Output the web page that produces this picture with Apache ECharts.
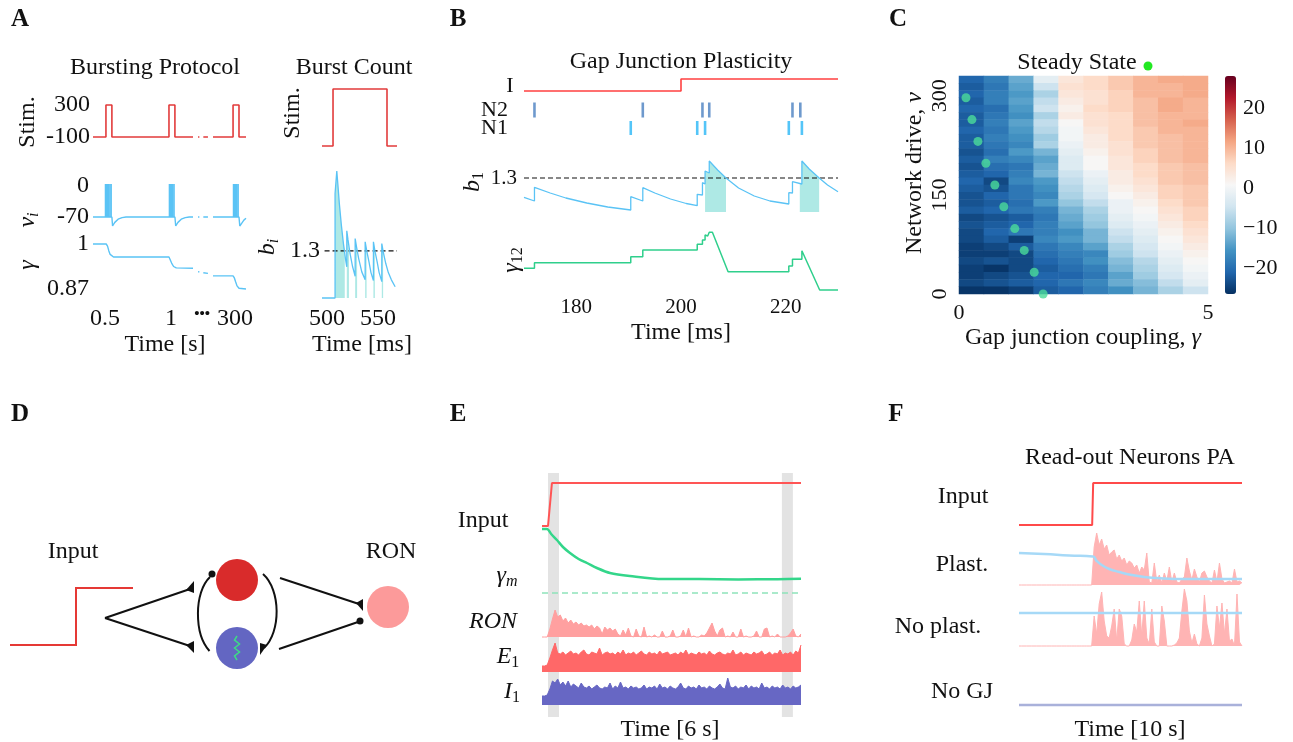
<!DOCTYPE html>
<html>
<head>
<meta charset="UTF-8">
<title>Gap junction plasticity</title>
<script src="https://cdn.jsdelivr.net/npm/echarts@6.0.0/dist/echarts.min.js"></script>
<style type="text/css">
html, body {
	width: 100%;
	height: 100%;
	padding: 0px;
	margin: 0px;
	background: #ffffff;
}
</style>
</head>
<body>
	<div id="chart" style="width: 1293px; height: 742px;"></div>

	<script type="text/javascript">
        var FONT = 'Liberation Serif';
        var INK = '#111111';

        // ---- A: bursting protocol (broken time axis, s) ----
        var stimA = [[0.41,-100],[0.508,-100],[0.508,300],[0.553,300],[0.553,-100],[0.985,-100],[0.985,300],[1.03,300],[1.03,-100],[1.167,-100],[1.167,'-'],[1.205,-100],[1.215,-100],[1.215,'-'],[1.245,-100],[1.28,-100],[1.28,'-'],[1.318,-100],[1.47,-100],[1.47,300],[1.515,300],[1.515,-100],[1.568,-100]];
        var vRestA = [[0.41,-70],[0.553,-70],[0.558,-90],[0.575,-82],[0.6,-75],[0.63,-71.5],[0.66,-70],[1.03,-70],[1.036,-90],[1.053,-82],[1.078,-75],[1.108,-71.5],[1.138,-70],[1.167,-70],[1.167,'-'],[1.205,-70],[1.215,-70],[1.215,'-'],[1.245,-70],[1.28,-70],[1.28,'-'],[1.318,-70],[1.515,-70],[1.521,-90],[1.535,-84],[1.552,-77],[1.568,-73]];
        var spikeTimesA = [0.503,0.509,0.516,0.523,0.531,0.54,0.549,0.987,0.993,1.0,1.008,1.016,1.025,1.472,1.478,1.485,1.493,1.501,1.51];
        var gammaA = [[0.41,1],[0.51,1],[0.52,0.994],[0.53,0.98],[0.54,0.97],[0.55,0.965],[0.565,0.9625],[0.985,0.9625],[0.995,0.957],[1.005,0.945],[1.02,0.935],[1.04,0.931],[1.167,0.93],[1.167,'-'],[1.205,0.92],[1.215,0.919],[1.215,'-'],[1.245,0.917],[1.28,0.915],[1.28,'-'],[1.318,0.908],[1.47,0.908],[1.48,0.902],[1.49,0.89],[1.5,0.879],[1.515,0.872],[1.53,0.87],[1.568,0.87]];
        var timeTicksA = [0.5, 1, 1.235, 1.485];
        var timeTextA = ['0.5', '1', '{d|\u2022\u2022\u2022}', '300'];

        // ---- A: burst count (ms) ----
        var stimBC = [[495,0],[505.8,0],[505.8,1],[558.7,1],[558.7,0],[568.5,0]];
        var bTraceA = [[495,0],[507.8,0],[507.8,2.88],[509.5,2.88],[509.5,3.5],[510.5,3.15],[512,2.6],[514,2.0],[516,1.5],[518,1.08],[519.3,0.86],[519.3,1.85],[520.5,1.6],[522.5,1.22],[525,0.86],[527.5,0.6],[527.5,1.64],[529,1.38],[531,1.08],[534,0.72],[537.3,0.5],[537.3,1.55],[539,1.28],[541,1.0],[543,0.7],[545.4,0.48],[545.4,1.55],[547,1.28],[549,1.0],[551,0.7],[553.6,0.45],[553.6,1.5],[555,1.27],[557.5,0.95],[560,0.7],[563,0.5],[566.7,0.31]];
        var bShadeA = [[507.8,2.88],[509.5,2.88],[509.5,3.5],[510.5,3.15],[512,2.6],[514,2.0],[516,1.5],[517.3,1.3],[517.3,'-'],[519.3,1.85],[520.5,1.6],[521.4,1.3],[521.4,'-'],[527.5,1.64],[529,1.38],[529.4,1.3],[529.4,'-'],[537.3,1.55],[538.7,1.3],[538.7,'-'],[545.4,1.55],[546.8,1.3],[546.8,'-'],[553.6,1.5],[554.9,1.3]];
        var thresholdA = [[497.5,1.3],[568.5,1.3]];

        // ---- B: gap junction plasticity (ms) ----
        var inputB = [[170,0],[200,0],[200,1],[230,1]];
        var spikesN2 = [172, 192.7, 204.1, 205.4, 221.3, 222.8];
        var spikesN1 = [190.4, 203.1, 204.6, 220.6, 223.1];
        var b1Trace = [[170,1.107],[172,1.07],[172,1.207],[175,1.15],[178,1.10],[182,1.05],[186,1.01],[190.4,0.98],[190.4,1.113],[192.7,1.07],[192.7,1.203],[195,1.15],[198,1.09],[201,1.045],[203.1,1.023],[203.1,1.137],[204.1,1.13],[204.1,1.253],[204.6,1.24],[204.6,1.37],[205.4,1.35],[205.4,1.47],[207,1.38],[208.6,1.3],[211,1.2],[214,1.12],[217,1.07],[220.6,1.04],[220.6,1.153],[221.3,1.15],[221.3,1.263],[223.1,1.24],[223.1,1.47],[224.5,1.39],[226.4,1.3],[228,1.23],[230,1.163]];
        var b1Shade = [[204.6,1.24],[204.6,1.37],[205.4,1.35],[205.4,1.47],[207,1.38],[208.6,1.3],[208.6,'-'],[222.7,1.245],[223.1,1.24],[223.1,1.47],[224.5,1.39],[226.4,1.3]];
        var thresholdB = [[170,1.3],[230,1.3]];
        var gamma12 = [[170,2.47],[172,2.47],[172,3.03],[190.4,3.03],[190.4,3.63],[192.7,3.63],[192.7,4.3],[203.1,4.3],[203.1,4.87],[204.1,4.87],[204.1,5.3],[204.6,5.3],[204.6,5.8],[205.1,5.7],[205.4,6.07],[205.7,5.95],[206,6.07],[209,2.13],[220.6,2.13],[220.6,2.7],[221.3,2.7],[221.3,3.37],[223.1,3.37],[223.1,4.23],[226.5,0.3],[230,0.3]];
        var ticksB = [180, 200, 220];

        // ---- C: steady state heatmap (rows from nu top to bottom, columns gamma 0..5) ----
        var heatRows = [
            [-21,-18,-13,-2,4,6,8,10,11,11],
            [-22,-19,-14,-5,5,6,8,10,10,11],
            [-21,-18,-15,-8,4,5,7,10,10,11],
            [-22,-18,-14,-6,3,5,7,9,11,10],
            [-21,-20,-15,-5,2,6,7,9,11,10],
            [-22,-19,-16,-8,3,5,6,9,10,10],
            [-22,-18,-14,-6,1,5,6,9,10,11],
            [-21,-19,-15,-7,0,4,6,8,10,10],
            [-22,-18,-16,-9,0,3,6,8,9,10],
            [-22,-19,-17,-8,-1,3,5,8,9,10],
            [-23,-20,-15,-12,-2,2,5,7,9,10],
            [-22,-18,-17,-14,-3,1,4,7,9,10],
            [-23,-20,-19,-13,-3,1,4,6,8,9],
            [-22,-21,-18,-12,-5,-1,3,6,8,9],
            [-21,-24,-17,-15,-6,-2,3,5,8,9],
            [-22,-23,-19,-16,-7,-3,2,4,7,8],
            [-23,-21,-19,-17,-8,-4,1,3,7,8],
            [-23,-22,-20,-15,-10,-6,-1,2,6,8],
            [-22,-21,-19,-18,-12,-8,-1,1,5,7],
            [-24,-23,-22,-19,-13,-9,-2,0,4,7],
            [-23,-22,-21,-18,-14,-10,-3,-1,3,6],
            [-24,-21,-19,-18,-16,-12,-5,-2,2,5],
            [-24,-22,-25,-17,-15,-12,-6,-3,1,4],
            [-25,-24,-22,-19,-17,-14,-8,-4,0,3],
            [-25,-25,-24,-20,-18,-17,-9,-5,-1,2],
            [-24,-23,-24,-21,-19,-16,-11,-7,-2,1],
            [-25,-26,-24,-22,-20,-18,-12,-8,-3,0],
            [-25,-24,-23,-21,-21,-19,-14,-9,-4,-1],
            [-24,-23,-22,-21,-19,-17,-13,-11,-6,-2],
            [-26,-26,-25,-22,-21,-18,-16,-12,-8,-5]
        ];
        var steadyDots = [[0.14,297],[0.26,264],[0.38,231],[0.54,198],[0.72,165],[0.90,132],[1.12,99],[1.31,66],[1.51,33],[1.69,0]];
        var cbarTicks = [-20, -10, 0, 10, 20];
        var rdbu = ['#053061','#2166ac','#4393c3','#92c5de','#d1e5f0','#f7f7f7','#fddbc7','#f4a582','#d6604d','#b2182b','#67001f'];

        // ---- E: network response (sample index over 6 s) ----
        var bandsE = [[2.3,6.5],[91.7,95.9]];
        var inputE = [[0,0],[2.3,0],[3.8,1],[99,1]];
        var gammaE = [[0,64],[1.9,64],[3.5,59],[5.7,53],[8,46],[10.7,40],[14,34],[17.2,30],[21,25],[26,20],[33.6,17],[46.3,14],[60,14],[75,13.6],[90,13.8],[99,14.2]];
        var gammaRefE = [[0,0],[99,0]];
        var ronE = [0,0,0,8,18,27,20,22,16,19, 14,17,13,15,12,14,11,12,10,12, 8,11,9,3,10,7,9,6,8,3, 1,7,2,9,1,0,8,1,0,10, 0,1,0,2,0,0,6,0,0,1, 7,0,0,1,7,0,9,0,1,0, 0,2,1,4,9,14,6,1,7,9, 0,1,0,5,0,0,8,0,1,0, 0,1,6,0,0,8,9,0,1,0, 3,0,0,0,1,4,8,1,0,3];
        var e1E = [6,6,7,14,22,29,19,18,20,17, 19,21,18,19,17,20,22,18,17,20, 19,18,24,17,19,20,18,19,17,20, 18,22,17,19,18,20,17,19,21,18, 17,20,18,19,17,21,18,19,20,17, 18,19,17,20,18,22,17,19,18,17, 20,18,19,17,21,18,17,19,20,18, 17,19,18,22,17,18,20,17,19,18, 17,20,18,19,21,17,18,20,17,19, 18,22,17,19,18,20,17,21,19,27];
        var i1E = [9,9,10,16,24,22,26,20,23,19, 24,18,21,19,17,22,18,17,19,16, 18,20,17,16,18,17,22,16,19,17, 23,17,18,16,19,17,18,16,17,20, 16,18,17,19,16,21,17,18,16,19, 17,16,18,22,17,16,19,17,18,16, 20,17,18,16,19,17,16,18,21,17, 16,27,18,17,19,16,18,17,20,16, 19,17,18,16,22,17,18,16,19,17, 18,16,20,17,18,16,19,17,18,20];

        // ---- F: read-out neurons (sample index over 10 s) ----
        var inputF = [[0,0],[29.2,0],[29.6,1],[89,1]];
        var plastF = [0,0,0,0,0,0,0,0,0,0, 0,0,0,0,0,0,0,0,0,0, 0,0,0,0,0,0,0,0,0,0, 38,52,40,46,36,40,30,33,35,26, 30,24,27,20,24,22,17,20,12,18, 15,32,3,2,22,3,10,2,12,4, 18,3,12,3,2,6,8,27,14,5, 16,8,3,12,14,8,4,2,15,3, 22,6,2,3,4,2,16,3,4,2];
        var plastLineF = [[0,32],[10,31],[20,29.5],[29.5,28.5],[31,24],[33,20],[36,16],[40,13],[45,10],[50,8],[55,7],[62,6],[89,6]];
        var noPlastF = [0,0,0,0,0,0,0,0,0,0, 0,0,0,0,0,0,0,0,0,0, 0,0,0,0,0,0,0,0,0,0, 30,12,42,54,25,10,8,20,37,5, 37,30,2,0,0,6,22,14,45,10, 45,8,2,37,4,0,0,40,25,0, 0,0,1,3,8,35,57,45,15,3, 12,2,0,8,51,22,10,0,2,40, 18,43,12,37,5,7,0,52,4,0];
        var noPlastLineF = [[0,33],[89,33]];
        var noGjF = [[0,0],[89,0]];

        // ---------------------------------------------------------------
        var grids = [], xAxes = [], yAxes = [], series = [], graphics = [];

        function axis(g, o) {
            var a = {type: 'value', gridIndex: g, axisLine: {show: false}, axisTick: {show: false},
                splitLine: {show: false}, axisLabel: {show: false}};
            for (var k in o) a[k] = o[k];
            return a;
        }
        function addGrid(rect, xa, ya) {
            var g = grids.length;
            grids.push({left: rect[0], top: rect[1], width: rect[2], height: rect[3]});
            xAxes.push(axis(g, xa));
            yAxes.push(axis(g, ya));
            return {x: xAxes.length - 1, y: yAxes.length - 1, g: g};
        }
        function ticks(values, size, margin, extra) {
            var l = {show: true, fontFamily: FONT, fontSize: size, color: INK, margin: margin};
            if (values) l.customValues = values;
            for (var k in extra) l[k] = extra[k];
            return l;
        }
        function line(ax, data, color, width, extra) {
            var s = {type: 'line', xAxisIndex: ax.x, yAxisIndex: ax.y, data: data, symbol: 'none',
                clip: false, silent: true, animation: false,
                lineStyle: {color: color, width: width}, itemStyle: {color: color}};
            for (var k in extra) s[k] = extra[k];
            series.push(s);
        }
        function area(ax, data, color) {
            line(ax, data, color, 1, {areaStyle: {color: color, opacity: 1, origin: 'start'}});
        }
        function indexed(arr) {
            return arr.map(function (v, i) { return [i, v]; });
        }
        function rich(size) {
            var sub = Math.round(size * 0.68), pad = [Math.round(size * 0.45), 0, 0, 0];
            return {
                m: {fontFamily: FONT, fontSize: size, fontStyle: 'italic', fill: INK, color: INK},
                u: {fontFamily: FONT, fontSize: size, fill: INK, color: INK},
                s: {fontFamily: FONT, fontSize: sub, fontStyle: 'italic', fill: INK, color: INK, padding: pad},
                r: {fontFamily: FONT, fontSize: sub, fill: INK, color: INK, padding: pad}
            };
        }
        function txt(x, y, text, size, style, rot) {
            var st = {text: text, fontFamily: FONT, fontSize: size, fill: INK, align: 'center', verticalAlign: 'middle', rich: rich(size)};
            for (var k in style) st[k] = style[k];
            graphics.push({type: 'text', x: x, y: y, rotation: rot || 0, silent: true, z: 10, style: st});
        }
        var UP = Math.PI / 2;

        // ---- panel A ----
        var xA = {min: 0.41, max: 1.568};
        var gAs = addGrid([93, 105, 153, 32], xA, {min: -100, max: 300, axisLabel: ticks([-100, 300], 24, 3)});
        var gAv = addGrid([93, 183, 153, 43], xA, {min: -90, max: 5, axisLabel: ticks([-70, 0], 24, 4)});
        var gAg = addGrid([93, 244, 153, 45], {min: 0.41, max: 1.568, axisLabel: ticks(timeTicksA, 24, 18, {
            formatter: function (v) {
                var best = 0;
                timeTicksA.forEach(function (t, i) { if (Math.abs(t - v) < Math.abs(timeTicksA[best] - v)) best = i; });
                return timeTextA[best];
            },
            rich: {d: {fontFamily: FONT, fontSize: 15, fontWeight: 'bold', color: INK}}
        })}, {min: 0.87, max: 1, axisLabel: ticks([0.87, 1], 24, 4)});
        line(gAs, stimA, '#e23b3b', 1.6);
        var vSpikes = [];
        spikeTimesA.forEach(function (t) { vSpikes.push([t, -70], [t, 3], [t, '-']); });
        line(gAv, vRestA, '#5ac3f5', 1.4);
        line(gAv, vSpikes, '#5ac3f5', 1.1);
        line(gAg, gammaA, '#5ac3f5', 1.4);

        var xBC = {min: 495, max: 568.5};
        var gAbs = addGrid([322, 89, 75, 57], xBC, {min: 0, max: 1});
        var gAb = addGrid([322, 171, 75, 127], {min: 495, max: 568.5, axisLabel: ticks([500, 550], 24, 9)},
            {min: 0, max: 3.5, axisLabel: ticks([1.3], 24, 2)});
        line(gAbs, stimBC, '#e23b3b', 1.6);
        line(gAb, bShadeA, '#aee9e5', 0, {areaStyle: {color: '#aee9e5', opacity: 1, origin: 'start'}});
        line(gAb, thresholdA, '#111', 1.2, {lineStyle: {color: '#111', width: 1.2, type: [5, 3]}});
        line(gAb, bTraceA, '#5ac3f5', 1.3);

        // ---- panel B ----
        var xB = {min: 170, max: 230};
        var gBi = addGrid([524, 79, 314, 12], xB, {min: 0, max: 1});
        var gBr = addGrid([524, 101, 314, 36], xB, {type: 'category', data: ['N1', 'N2'], axisLabel: ticks(null, 22, 16, {interval: 0})});
        var gBb = addGrid([524, 150, 314, 62], xB, {min: 0.96, max: 1.58, axisLabel: ticks([1.3], 21, 7)});
        var gBg = addGrid([524, 225, 314, 68], {min: 170, max: 230, axisLabel: ticks(ticksB, 21, 4)}, {min: 0, max: 6.8});
        line(gBi, inputB, '#ff4040', 1.6);
        series.push({type: 'scatter', xAxisIndex: gBr.x, yAxisIndex: gBr.y, silent: true, animation: false,
            symbol: 'rect', symbolSize: [2.6, 15], itemStyle: {color: '#4a7fc1'},
            data: spikesN2.map(function (t) { return [t, 1]; })});
        series.push({type: 'scatter', xAxisIndex: gBr.x, yAxisIndex: gBr.y, silent: true, animation: false,
            symbol: 'rect', symbolSize: [2.6, 14], itemStyle: {color: '#29b6f6'},
            data: spikesN1.map(function (t) { return [t, 0]; })});
        line(gBb, b1Shade, '#aee9e5', 0, {areaStyle: {color: '#aee9e5', opacity: 1, origin: 'start'}});
        line(gBb, thresholdB, '#111', 1.2, {lineStyle: {color: '#111', width: 1.2, type: [5, 3]}});
        line(gBb, b1Trace, '#5ac3f5', 1.3);
        line(gBg, gamma12, '#2fcf8c', 1.5);

        // ---- panel C ----
        var colCats = heatRows[0].map(function (v, i) { return String(i); });
        var rowCats = heatRows.map(function (v, i) { return String(i); });
        var gC = addGrid([959, 76, 249, 218], {type: 'category', data: colCats, position: 'bottom'},
            {type: 'category', data: rowCats, position: 'left'});
        xAxes.push(axis(gC.g, {position: 'bottom', min: 0, max: 5, axisLabel: ticks([0, 5], 22, 8)}));
        var cX = xAxes.length - 1;
        yAxes.push(axis(gC.g, {position: 'left', min: 0, max: 330, axisLabel: ticks([0, 150, 300], 22, 8, {rotate: 90})}));
        var cY = yAxes.length - 1;
        var heatData = [];
        heatRows.forEach(function (row, r) {
            row.forEach(function (v, c) { heatData.push([c, heatRows.length - 1 - r, v]); });
        });
        var heatIndex = series.length;
        series.push({type: 'heatmap', xAxisIndex: gC.x, yAxisIndex: gC.y, data: heatData, silent: true,
            animation: false, itemStyle: {borderWidth: 0}, emphasis: {disabled: true}});
        series.push({type: 'scatter', xAxisIndex: cX, yAxisIndex: cY, data: steadyDots, symbolSize: 9,
            silent: true, animation: false, itemStyle: {color: '#4bdc9a'}});
        var gCb = addGrid([1225, 76, 11, 218], {min: 0, max: 1}, {position: 'right', min: -26.5, max: 28,
            axisLabel: ticks(cbarTicks, 22, 7, {formatter: function (v) { return String(v).replace('-', '\u2212'); }})});

        // ---- panel E ----
        var xE = {min: 0, max: 99};
        var gEbg = addGrid([542, 473, 259, 244], xE, {min: 0, max: 1});
        series.push({type: 'custom', xAxisIndex: gEbg.x, yAxisIndex: gEbg.y, data: bandsE, silent: true, animation: false,
            renderItem: function (params, api) {
                var a = api.coord([api.value(0), 1]), b = api.coord([api.value(1), 0]);
                return {type: 'rect', shape: {x: a[0], y: a[1], width: b[0] - a[0], height: b[1] - a[1]},
                    style: {fill: '#e3e3e3'}};
            }});
        var gEin = addGrid([542, 483, 259, 43], xE, {min: 0, max: 1});
        var gEg = addGrid([542, 527, 259, 66], xE, {min: 0, max: 66});
        var gEr = addGrid([542, 607, 259, 30], xE, {min: 0, max: 30});
        var gEe = addGrid([542, 642, 259, 30], xE, {min: 0, max: 30});
        var gEi = addGrid([542, 676, 259, 29], xE, {min: 0, max: 29});
        line(gEin, inputE, '#ff5555', 2);
        line(gEg, gammaRefE, '#8fe3bb', 1.3, {lineStyle: {color: '#8fe3bb', width: 1.3, type: [6, 4]}});
        line(gEg, gammaE, '#33d68a', 2.5, {smooth: 0.3});
        area(gEr, indexed(ronE), '#ffa0a0');
        area(gEe, indexed(e1E), '#ff6868');
        area(gEi, indexed(i1E), '#6767c4');

        // ---- panel F ----
        var xF = {min: 0, max: 89};
        var gFin = addGrid([1019, 483, 223, 42], xF, {min: 0, max: 1});
        var gFp = addGrid([1019, 530, 223, 55], xF, {min: 0, max: 55});
        var gFn = addGrid([1019, 588, 223, 58], xF, {min: 0, max: 58});
        var gFg = addGrid([1019, 695, 223, 10], xF, {min: 0, max: 1});
        line(gFin, inputF, '#ff4a4a', 2);
        area(gFp, indexed(plastF), '#ffb4b4');
        line(gFp, plastLineF, '#a6d9f7', 2.5, {smooth: true});
        area(gFn, indexed(noPlastF), '#ffb4b4');
        line(gFn, noPlastLineF, '#a6d9f7', 2.5);
        line(gFg, noGjF, '#a9b1da', 2.5);

        // ---- text ----
        [['A', 20, 20], ['B', 458, 20], ['C', 898, 20], ['D', 20, 415], ['E', 458, 415], ['F', 896, 415]].forEach(function (p) {
            txt(p[1], p[2], p[0], 25, {fontWeight: 'bold'});
        });
        txt(155, 68, 'Bursting Protocol', 24);
        txt(354, 68, 'Burst Count', 24);
        txt(28, 122, 'Stim.', 24, {}, UP);
        txt(28, 220, '{m|v}{s|i}', 24, {}, UP);
        txt(28, 265, '{m|\u03b3}', 24, {}, UP);
        txt(293, 113, 'Stim.', 24, {}, UP);
        txt(268, 247, '{m|b}{s|i}', 24, {}, UP);
        txt(165, 345, 'Time [s]', 24);
        txt(362, 345, 'Time [ms]', 24);

        txt(681, 62, 'Gap Junction Plasticity', 24);
        txt(510, 86, 'I', 22);
        txt(473, 182, '{m|b}{r|1}', 24, {}, UP);
        txt(512, 260, '{m|\u03b3}{r|12}', 24, {}, UP);
        txt(681, 333, 'Time [ms]', 24);

        txt(1077, 63, 'Steady State', 24);
        graphics.push({type: 'circle', silent: true, shape: {cx: 1148, cy: 66, r: 4.5}, style: {fill: '#22e822'}});
        txt(1083, 338, 'Gap junction coupling, {m|\u03b3}', 24);
        txt(915, 173, 'Network drive, {m|\u03bd}', 24, {}, UP);

        txt(483, 521, 'Input', 24);
        txt(507, 576, '{m|\u03b3}{s|m}', 24);
        txt(493, 622, '{m|RON}', 24);
        txt(508, 657, '{m|E}{r|1}', 24);
        txt(512, 692, '{m|I}{r|1}', 24);
        txt(670, 730, 'Time [6 s]', 24);

        txt(1130, 458, 'Read-out Neurons PA', 24);
        txt(963, 497, 'Input', 24);
        txt(962, 565, 'Plast.', 24);
        txt(938, 627, 'No plast.', 24);
        txt(962, 692, 'No GJ', 24);
        txt(1130, 730, 'Time [10 s]', 24);

        // ---- panel D: circuit sketch ----
        var K = '#111111';
        function seg(x1, y1, x2, y2) {
            graphics.push({type: 'line', silent: true, shape: {x1: x1, y1: y1, x2: x2, y2: y2}, style: {stroke: K, lineWidth: 2}});
        }
        function tri(pts) {
            graphics.push({type: 'polygon', silent: true, shape: {points: pts}, style: {fill: K}});
        }
        function dot(cx, cy, r, fill) {
            graphics.push({type: 'circle', silent: true, shape: {cx: cx, cy: cy, r: r}, style: {fill: fill}});
        }
        txt(73, 552, 'Input', 24);
        txt(391, 552, 'RON', 24);
        graphics.push({type: 'polyline', silent: true, shape: {points: [[10, 645], [76, 645], [76, 588], [133, 588]]},
            style: {stroke: '#e53935', lineWidth: 2, fill: null}});
        seg(105, 618, 193, 588);
        seg(105, 618, 193, 647);
        tri([[194, 581], [194, 593], [186, 590]]);
        tri([[194, 641], [194, 653], [186, 645]]);
        graphics.push({type: 'bezierCurve', silent: true,
            shape: {x1: 210, y1: 577, cpx1: 194, cpy1: 592, cpx2: 194, cpy2: 634, x2: 209.5, y2: 651},
            style: {stroke: K, lineWidth: 2, fill: null}});
        dot(212, 574, 3.5, K);
        graphics.push({type: 'bezierCurve', silent: true,
            shape: {x1: 263, y1: 574, cpx1: 281, cpy1: 590, cpx2: 281, cpy2: 632, x2: 264, y2: 648},
            style: {stroke: K, lineWidth: 2, fill: null}});
        tri([[260, 643], [260, 655], [267, 645]]);
        seg(280, 578, 362, 605);
        tri([[363, 599], [363, 611], [356, 603]]);
        seg(279, 649, 358, 622);
        dot(360, 621, 3.5, K);
        dot(237, 580, 21, '#d92b2b');
        dot(237, 648, 21, '#6366c2');
        dot(388, 607, 21, '#fc9a9a');
        graphics.push({type: 'polyline', silent: true,
            shape: {points: [[237, 636], [234.5, 640], [239.5, 644], [234.5, 648], [239.5, 652], [234.5, 656], [237, 660]]},
            style: {stroke: '#3ddc84', lineWidth: 1.5, fill: null}});

        var myChart = echarts.init(document.getElementById('chart'));
        myChart.setOption({
            animation: false,
            backgroundColor: '#ffffff',
            textStyle: {fontFamily: FONT},
            grid: grids,
            xAxis: xAxes,
            yAxis: yAxes,
            visualMap: {
                type: 'continuous', seriesIndex: heatIndex, min: -26.5, max: 28,
                inRange: {color: rdbu}, show: true, calculable: false, hoverLink: false,
                left: 1225, top: 76, itemWidth: 11, itemHeight: 218, padding: 0
            },
            series: series,
            graphic: graphics
        });
	</script>
</body>
</html>
